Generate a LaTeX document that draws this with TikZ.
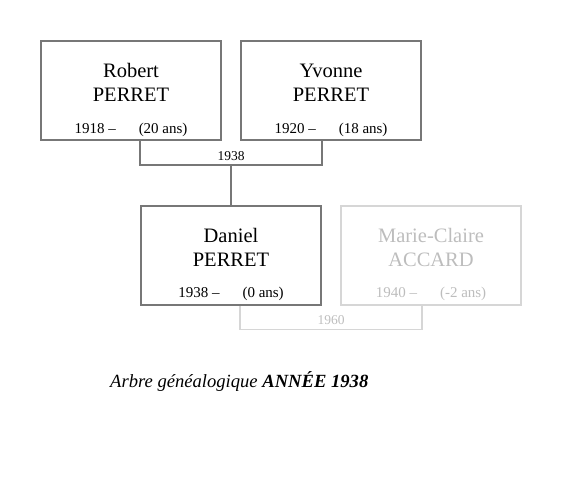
\documentclass[tikz,border=0pt]{standalone}
\usepackage{fontspec}
\setmainfont{Liberation Serif}
\definecolor{darkline}{HTML}{777777}
\definecolor{lightline}{HTML}{D6D6D6}
\definecolor{lighttext}{HTML}{BDBDBD}
\tikzset{
  x=1pt, y=-1pt,
  personbox/.style={draw=darkline, line width=1.8pt, minimum width=180pt, minimum height=99pt, inner sep=0pt},
  ghostbox/.style={personbox, draw=lightline},
  nametext/.style={anchor=base, align=center, inner sep=0pt, font=\fontsize{20.5}{24}\selectfont},
  datetext/.style={anchor=base, inner sep=0pt, font=\fontsize{15}{18}\selectfont},
  yeartext/.style={anchor=base, inner sep=0pt, font=\fontsize{13.5}{16}\selectfont},
  conn/.style={draw=darkline, line width=1.8pt},
  ghostconn/.style={draw=lightline, line width=1.8pt},
}
\newcommand{\dateline}[2]{#1~–\hspace{23pt}(#2)}
\begin{document}
\begin{tikzpicture}
\useasboundingbox (0,0) rectangle (577,499);
% boxes
\node[personbox] (rob) at (131,90.5) {};
\node[personbox] (yvo) at (331,90.5) {};
\node[personbox] (dan) at (231,255.5) {};
\node[ghostbox] (mar) at (431,255.5) {};
% texts
\node[nametext] (robn1) at (131,77) {Robert};
\node[nametext] (robn2) at (131,101) {PERRET};
\node[datetext] (robd) at (131,133) {\dateline{1918}{20 ans}};
\node[nametext] (yvon1) at (331,77) {Yvonne};
\node[nametext] (yvon2) at (331,101) {PERRET};
\node[datetext] (yvod) at (331,133) {\dateline{1920}{18 ans}};
\node[nametext] (dann1) at (231,242) {Daniel};
\node[nametext] (dann2) at (231,266) {PERRET};
\node[datetext] (dand) at (231,297) {\dateline{1938}{0 ans}};
\node[nametext, text=lighttext] (marn1) at (431,242) {Marie-Claire};
\node[nametext, text=lighttext] (marn2) at (431,266) {ACCARD};
\node[datetext, text=lighttext] (mard) at (431,297) {\dateline{1940}{-2 ans}};
% marriage connectors
\coordinate (m1) at (231,165);
\coordinate (m2) at (331,329.5);
\draw[conn] (rob.south -| dan.west) |- (m1) -| (yvo.south -| dan.east);
\draw[conn] (m1) -- (dan.north);
\node[yeartext] (y1) at (231,160.5) {1938};
\draw[ghostconn] (dan.south -| yvo.west) |- (m2) -| (mar.south -| yvo.east);
\node[yeartext, text=lighttext] (y2) at (331,324.5) {1960};
% caption
\node[anchor=base west, inner sep=0pt, font=\fontsize{18.6}{22}\selectfont] (cap) at (110,387) {\textit{Arbre généalogique \textbf{ANNÉE 1938}}};
\end{tikzpicture}
\end{document}
